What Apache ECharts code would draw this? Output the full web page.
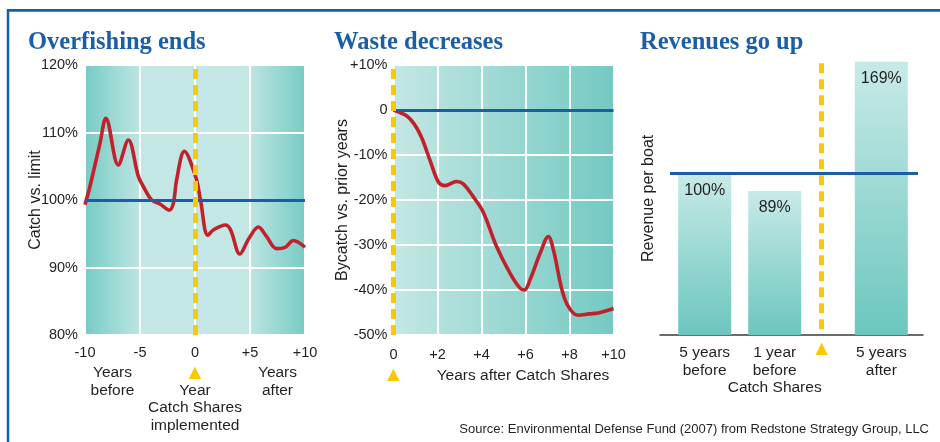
<!DOCTYPE html>
<html>
<head>
<meta charset="utf-8">
<script src="https://cdn.jsdelivr.net/npm/echarts@6/dist/echarts.min.js"></script>
<style>
html, body { margin: 0; padding: 0; background: #fff; }
#chart { width: 940px; height: 442px; }
</style>
</head>
<body>
<div id="chart"></div>
<script>
// Overfishing ends: catch vs. limit (%) by year relative to catch shares
const catchYears = [-10, -9.55, -8.64, -8.1, -6.97, -6.06, -5.15, -4.7, -3.94, -3.18, -2.33, -1.97, -1.67, -0.97, 0.05, 0.5, 1.16, 1.7, 2.77, 3.23, 4.08, 4.9, 5.76, 6.5, 7.4, 8.2, 8.94, 10];
const catchPct = [99.3, 102, 108.4, 112.1, 105.2, 108.9, 103.5, 102, 100, 99.4, 98.5, 99.5, 103, 107.2, 103.5, 100, 94.8, 95.6, 96.3, 95.6, 92.0, 94.3, 96.0, 94.6, 92.8, 93.0, 94.0, 93.0];
const catchXTicks = { '-10': '-10', '-5': '-5', '0': '0', '5': '+5', '10': '+10' };
const catchXNotes = { '-7.5': 'Years\nbefore', '0': '{tri|▲}\nYear\nCatch Shares\nimplemented', '7.5': 'Years\nafter' };

// Waste decreases: bycatch vs. prior years (%)
const bycatchYears = [0, 0.67, 1.2, 1.66, 2.04, 2.34, 2.87, 3.17, 3.63, 4.08, 4.69, 5.3, 5.75, 5.95, 6.2, 6.66, 7.04, 7.27, 7.8, 8.4, 8.9, 9.3, 10];
const bycatchPct = [0, -1.6, -5.3, -11.2, -16.0, -16.8, -15.9, -16.4, -19.3, -22.7, -30.4, -36.3, -39.6, -40, -37.8, -31.9, -28.1, -31.1, -42.2, -45.6, -45.3, -45.1, -44.1];

// Revenues go up: revenue per boat (% of 5 years before)
const revenueCats = ['5 years\nbefore', '1 year\nbefore\nCatch Shares', '5 years\nafter'];
const revenuePct = [100, 89, 169];

const BLUE = '#1b5ea8';
const RED = '#c1212b';
const YELLOW = '#fcc800';
const INK = '#231f20';
const SANS = 'Liberation Sans';

const chart = echarts.init(document.getElementById('chart'));

const tealEdges = new echarts.graphic.LinearGradient(0, 0, 1, 0, [
  { offset: 0, color: '#78cbc5' },
  { offset: 0.25, color: '#bde5e2' },
  { offset: 0.251, color: '#c3e7e4' },
  { offset: 0.749, color: '#c3e7e4' },
  { offset: 0.75, color: '#bde5e2' },
  { offset: 1, color: '#78cbc5' },
]);
const tealRamp = new echarts.graphic.LinearGradient(0, 0, 1, 0, [
  { offset: 0, color: '#c4e7e4' },
  { offset: 1, color: '#74c9c2' },
]);
const barFill = new echarts.graphic.LinearGradient(0, 0, 0, 1, [
  { offset: 0, color: '#c8eae7' },
  { offset: 1, color: '#6cc6bf' },
]);

const white = { show: true, lineStyle: { color: '#fff', width: 2 } };
const noAxis = { axisLine: { show: false }, axisTick: { show: false } };
const tickText = { color: INK, fontSize: 14.5, fontFamily: SANS };
const noteText = { color: INK, fontSize: 15.5, fontFamily: SANS, lineHeight: 17.6 };
const tri = { tri: { color: YELLOW, fontSize: 21, lineHeight: 17.6 } };
const nameText = { color: INK, fontSize: 16, fontFamily: SANS };
const dashed = (xv) => ({
  silent: true, symbol: 'none', label: { show: false },
  lineStyle: { color: YELLOW, width: 5, type: [10, 6] },
  data: [{ xAxis: xv }],
});
const level = (yv) => ({
  silent: true, symbol: 'none', label: { show: false },
  lineStyle: { color: BLUE, width: 3, type: 'solid' },
  data: [{ yAxis: yv }],
});
const barLabel = {
  show: true, position: 'insideTop', distance: 9, formatter: '{c}%',
  color: INK, fontSize: 16, fontFamily: SANS,
};

chart.setOption({
  animation: false,
  backgroundColor: '#fff',
  title: [
    { text: 'Overfishing ends', left: 23, top: 25 },
    { text: 'Waste decreases', left: 329, top: 25 },
    { text: 'Revenues go up', left: 635, top: 25 },
    {
      text: 'Source: Environmental Defense Fund (2007) from Redstone Strategy Group, LLC',
      right: 6, top: 418,
      textStyle: { color: INK, fontSize: 13, fontWeight: 'normal', fontFamily: SANS },
    },
  ].map((t) => ({
    ...t,
    textStyle: t.textStyle || { color: BLUE, fontSize: 24.5, fontWeight: 'bold', fontFamily: 'Liberation Serif' },
  })),
  graphic: [
    { type: 'line', shape: { x1: 7, y1: 10.3, x2: 940, y2: 10.3 }, style: { stroke: BLUE, lineWidth: 2.7 } },
    { type: 'line', shape: { x1: 8, y1: 9, x2: 8, y2: 442 }, style: { stroke: BLUE, lineWidth: 2.5 } },
  ],
  grid: [
    { left: 85, top: 65, width: 220, height: 270, show: true, borderWidth: 0, backgroundColor: tealEdges },
    { left: 393.5, top: 65, width: 220, height: 270, show: true, borderWidth: 0, backgroundColor: tealRamp },
    { left: 669.7, top: 61.7, width: 140, height: 273.3 },
    { left: 791.9, top: 61.7, width: 119.2, height: 273.3 },
    { left: 660, top: 61.7, width: 263, height: 273.3 },
    { left: 670, top: 61.7, width: 248, height: 273.3 },
  ],
  xAxis: [
    {
      gridIndex: 0, type: 'value', position: 'bottom', min: -10, max: 10, interval: 5, ...noAxis, splitLine: white,
      axisLabel: { ...tickText, margin: 10, formatter: (v) => catchXTicks[String(v)] },
    },
    {
      gridIndex: 0, type: 'value', position: 'bottom', min: -10, max: 10, interval: 2.5, ...noAxis, splitLine: { show: false },
      axisLabel: { ...noteText, rich: tri, margin: 29, verticalAlign: 'top', formatter: (v) => catchXNotes[String(v)] || '' },
    },
    {
      gridIndex: 1, type: 'value', min: 0, max: 10, interval: 2, ...noAxis, splitLine: white,
      axisLabel: {
        ...tickText, margin: 10, lineHeight: 20,
        rich: { tri: { ...tri.tri, lineHeight: 20 } },
        formatter: (v) => (v === 0 ? '0\n{tri|▲}' : '+' + v),
      },
      name: 'Years after Catch Shares', nameLocation: 'middle', nameGap: 32, nameMoveOverlap: false,
      nameTextStyle: { ...noteText, padding: [0, 0, 0, 39] },
    },
    {
      gridIndex: 2, type: 'category', data: revenueCats.slice(0, 2), ...noAxis,
      axisLabel: { ...noteText, margin: 9, interval: 0 },
    },
    {
      gridIndex: 3, type: 'category', data: ['', revenueCats[2]], ...noAxis,
      axisLabel: {
        ...noteText, margin: 9, interval: 0,
        rich: { tri: { ...tri.tri, lineHeight: 11 } },
        formatter: (v) => v || '{tri|▲}',
      },
    },
    {
      gridIndex: 4, type: 'value', min: 0, max: 1, axisTick: { show: false }, axisLabel: { show: false },
      splitLine: { show: false }, axisLine: { show: true, lineStyle: { color: '#3b3b3b', width: 1.5 } },
    },
    { gridIndex: 5, type: 'value', min: 0, max: 1, show: false },
  ],
  yAxis: [
    {
      gridIndex: 0, type: 'value', min: 80, max: 120, interval: 10, ...noAxis, splitLine: white,
      axisLabel: { ...tickText, margin: 7, formatter: (v) => v + '%' },
      name: 'Catch vs. limit', nameLocation: 'middle', nameGap: 41, nameMoveOverlap: false, nameTextStyle: nameText,
    },
    {
      gridIndex: 1, type: 'value', min: -50, max: 10, interval: 10, ...noAxis, splitLine: white,
      axisLabel: { ...tickText, margin: 6, formatter: (v) => (v > 0 ? '+' + v + '%' : v === 0 ? '0' : v + '%') },
      name: 'Bycatch vs. prior years', nameLocation: 'middle', nameGap: 43, nameMoveOverlap: false, nameTextStyle: nameText,
    },
    {
      gridIndex: 2, type: 'value', min: 0, max: 169, ...noAxis, axisLabel: { show: false }, splitLine: { show: false },
      name: 'Revenue per boat', nameLocation: 'middle', nameGap: 13, nameMoveOverlap: false, nameTextStyle: nameText,
    },
    { gridIndex: 3, type: 'value', min: 0, max: 169, show: false },
    { gridIndex: 4, type: 'value', min: 0, max: 169, show: false },
    { gridIndex: 5, type: 'value', min: 0, max: 169, show: false },
  ],
  series: [
    // overfishing
    { type: 'line', xAxisIndex: 0, yAxisIndex: 0, data: [], z: 2, markLine: level(100) },
    { type: 'line', xAxisIndex: 0, yAxisIndex: 0, data: [], z: 3, markLine: dashed(0) },
    {
      type: 'line', xAxisIndex: 0, yAxisIndex: 0, z: 4, clip: false,
      data: catchYears.map((x, i) => [x, catchPct[i]]),
      smooth: 0.35, showSymbol: false, lineStyle: { color: RED, width: 3.6 },
    },
    // waste
    { type: 'line', xAxisIndex: 2, yAxisIndex: 1, data: [], z: 2, markLine: level(0) },
    { type: 'line', xAxisIndex: 2, yAxisIndex: 1, data: [], z: 3, clip: false, markLine: dashed(0) },
    {
      type: 'line', xAxisIndex: 2, yAxisIndex: 1, z: 4, clip: false,
      data: bycatchYears.map((x, i) => [x, bycatchPct[i]]),
      smooth: 0.35, showSymbol: false, lineStyle: { color: RED, width: 3.6 },
    },
    // revenues
    {
      type: 'bar', xAxisIndex: 3, yAxisIndex: 2, z: 2, barWidth: 53,
      data: revenuePct.slice(0, 2), itemStyle: { color: barFill }, label: barLabel,
    },
    {
      type: 'bar', xAxisIndex: 4, yAxisIndex: 3, z: 2, barWidth: 53,
      data: ['-', revenuePct[2]], itemStyle: { color: barFill }, label: barLabel,
    },
    { type: 'line', xAxisIndex: 6, yAxisIndex: 5, data: [], z: 3, markLine: level(100) },
    {
      type: 'line', xAxisIndex: 4, yAxisIndex: 3, data: [], z: 4,
      markLine: { ...dashed(0), data: [[{ xAxis: 0, yAxis: 168 }, { xAxis: 0, yAxis: 0 }]] },
    },
  ],
});
</script>
</body>
</html>
